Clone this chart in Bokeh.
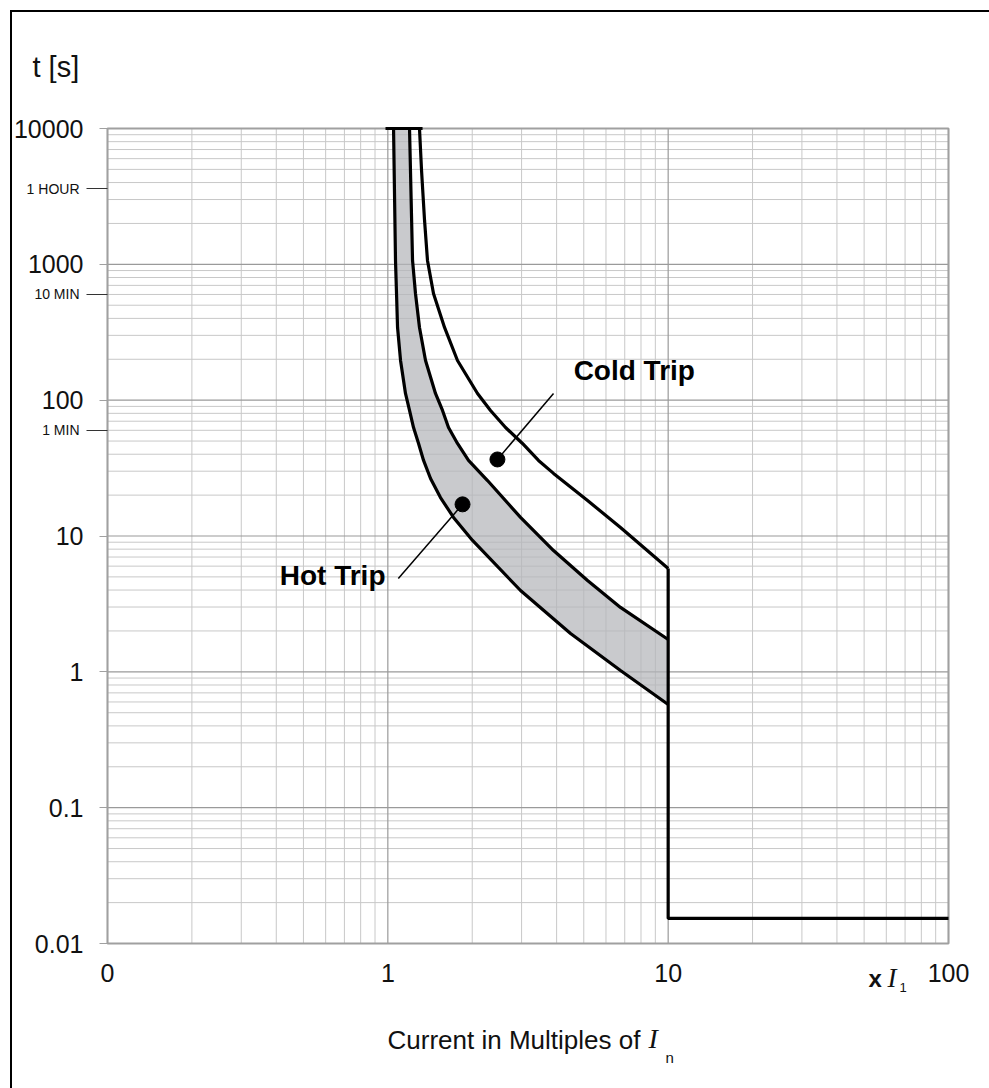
from bokeh.plotting import figure
from bokeh.models import Range1d, FixedTicker, LogAxis, Label
from bokeh.embed import file_html
from bokeh.resources import INLINE
from bokeh.core.properties import value

FONT = "Liberation Sans"
SERIF = "Liberation Serif"

# ---------------- data ----------------
x_decades = [0.1, 1, 10, 100]
x_tick_labels = ["0", "1", "10", "100"]
y_decades = [0.01, 0.1, 1, 10, 100, 1000, 10000]
y_tick_labels = ["0.01", "0.1", "1", "10", "100", "1000", "10000"]
time_marks = [3600, 600, 60]
time_mark_labels = ["1 HOUR", "10 MIN", "1 MIN"]

# hot trip curve (lower edge of the band)
hot_lower_x = [1.048, 1.065, 1.074, 1.083, 1.110, 1.156, 1.195, 1.235, 1.287, 1.341, 1.420,
               1.541, 1.715, 2.005, 2.974, 4.485, 6.76, 10.0]
hot_lower_y = [10000, 1068, 610, 343, 196, 112, 84.0, 62.9, 48.0, 36.0, 26.5,
               19.2, 13.7, 9.27, 3.97, 1.915, 1.023, 0.575]
# upper edge of the hot band
hot_upper_x = [1.195, 1.225, 1.255, 1.297, 1.363, 1.479, 1.567, 1.646, 1.772, 1.940,
               2.268, 2.974, 3.90, 5.157, 6.76, 10.0]
hot_upper_y = [10000, 1068, 610, 343, 196, 112, 84.0, 62.9, 48.0, 36.0,
               25.6, 13.7, 7.82, 4.70, 2.98, 1.73]
# cold trip curve
cold_x = [1.297, 1.319, 1.352, 1.385, 1.455, 1.593, 1.772, 2.089, 2.324, 2.630, 3.022,
          3.447, 3.90, 5.157, 6.76, 10.0]
cold_y = [10000, 4909, 2103, 1068, 610, 343, 196, 112, 84.0, 62.9, 48.0,
          36.0, 28.9, 18.25, 11.55, 5.77]
# instantaneous trip step
inst_x = [10.0, 10.0, 100.0]
inst_y = [5.77, 0.0153, 0.0153]
# cap at the top of the curves
cap_x = [0.981, 1.33]
cap_y = [10000, 10000]

# annotation markers (dot, leader end) and label anchors
cold_dot = (2.46, 36.6)
cold_leader_end = (3.90, 112)
cold_label_pos = (4.6, 165)
hot_dot = (1.847, 17.1)
hot_leader_end = (1.09, 4.87)
hot_label_pos = (0.981, 5.12)

# ---------------- layout ----------------
W, H = 989, 1088
PLOT_L, PLOT_R, PLOT_T, PLOT_B = 107, 948, 128, 943      # chart area inside the page
dec_x = (PLOT_R - PLOT_L) / 3.0                           # pixels per decade
dec_y = (PLOT_B - PLOT_T) / 6.0
x_lo, x_hi = x_decades[0], x_decades[-1]
y_lo, y_hi = y_decades[0], y_decades[-1]
x_range = Range1d(x_lo / 10 ** (PLOT_L / dec_x), x_hi * 10 ** ((W - PLOT_R) / dec_x))
y_range = Range1d(y_lo / 10 ** ((H - PLOT_B) / dec_y), y_hi * 10 ** (PLOT_T / dec_y))

p = figure(x_axis_type="log", y_axis_type="log",
           x_range=x_range, y_range=y_range,
           width=W, height=H, min_border=0,
           x_axis_location=None, y_axis_location=None,
           output_backend="svg", toolbar_location=None,
           background_fill_color=None, border_fill_color=None)
p.outline_line_color = None
p.xgrid.visible = False
p.ygrid.visible = False

# outer drawing frame (left and top edges visible, as in the reference)
p.styles = {"box-shadow": "inset 10px 10px 0 0 #ffffff, inset 12px 12px 0 0 #000000"}

x_minor = [m * d for d in x_decades[:-1] for m in range(2, 10)]
y_minor = [m * d for d in y_decades[:-1] for m in range(2, 10)]

# ---------------- grid ----------------
p.segment(x0=x_minor, y0=[y_lo] * len(x_minor), x1=x_minor, y1=[y_hi] * len(x_minor),
          line_color="#c8c8c8", line_width=1)
p.segment(x0=[x_lo] * len(y_minor), y0=y_minor, x1=[x_hi] * len(y_minor), y1=y_minor,
          line_color="#c8c8c8", line_width=1)
p.segment(x0=x_decades, y0=[y_lo] * len(x_decades), x1=x_decades, y1=[y_hi] * len(x_decades),
          line_color="#9a9a9a", line_width=1.2)
p.segment(x0=[x_lo] * len(y_decades), y0=y_decades, x1=[x_hi] * len(y_decades), y1=y_decades,
          line_color="#9a9a9a", line_width=1.2)

# band fill
p.patch(hot_lower_x + hot_upper_x[::-1], hot_lower_y + hot_upper_y[::-1],
        fill_color="#b4b5ba", fill_alpha=0.72, line_color=None)

# chart border
p.quad(left=[x_lo], right=[x_hi], bottom=[y_lo], top=[y_hi],
       fill_color=None, line_color="#a0a0a0", line_width=2)

# ---------------- axes ----------------
y_axis = LogAxis(fixed_location=x_lo, bounds=(y_lo, y_hi),
                 ticker=FixedTicker(ticks=y_decades, minor_ticks=[]),
                 major_label_overrides={float(v): t for v, t in zip(y_decades, y_tick_labels)},
                 axis_line_color=None, minor_tick_line_color=None,
                 major_tick_line_color="#a0a0a0", major_tick_out=8, major_tick_in=0,
                 major_label_standoff=16, major_label_text_font=FONT,
                 major_label_text_font_size="25px", major_label_text_color="#111111")
p.add_layout(y_axis, "left")

t_axis = LogAxis(fixed_location=x_lo, bounds=(y_lo, y_hi),
                 ticker=FixedTicker(ticks=time_marks, minor_ticks=[]),
                 major_label_overrides={float(v): t for v, t in zip(time_marks, time_mark_labels)},
                 axis_line_color=None, minor_tick_line_color=None,
                 major_tick_line_color="#333333", major_tick_out=21, major_tick_in=0,
                 major_label_standoff=7, major_label_text_font=FONT,
                 major_label_text_font_size="14px", major_label_text_color="#111111")
p.add_layout(t_axis, "left")

x_axis = LogAxis(fixed_location=y_lo, bounds=(x_lo, x_hi),
                 ticker=FixedTicker(ticks=x_decades, minor_ticks=[]),
                 major_label_overrides={float(v): t for v, t in zip(x_decades, x_tick_labels)},
                 axis_line_color=None, minor_tick_line_color=None,
                 major_tick_line_color=None, major_tick_out=0, major_tick_in=0,
                 major_label_standoff=20, major_label_text_font=FONT,
                 major_label_text_font_size="25px", major_label_text_color="#111111")
p.add_layout(x_axis, "below")

# ---------------- curves ----------------
LW = 3.2
p.line(hot_lower_x, hot_lower_y, line_color="black", line_width=LW)
p.line(hot_upper_x, hot_upper_y, line_color="black", line_width=LW)
p.line(cold_x, cold_y, line_color="black", line_width=LW)
p.line(inst_x, inst_y, line_color="black", line_width=LW)
p.line(cap_x, cap_y, line_color="black", line_width=LW)

# leaders and dots
p.segment(x0=[cold_dot[0], hot_dot[0]], y0=[cold_dot[1], hot_dot[1]],
          x1=[cold_leader_end[0], hot_leader_end[0]], y1=[cold_leader_end[1], hot_leader_end[1]],
          line_color="black", line_width=1.5)
p.scatter([cold_dot[0], hot_dot[0]], [cold_dot[1], hot_dot[1]], size=15,
          fill_color="black", line_color="black")

p.text(x=[cold_label_pos[0]], y=[cold_label_pos[1]], text=["Cold Trip"],
       text_font=value(FONT), text_font_style="bold", text_font_size="28px",
       text_align="left", text_baseline="middle", text_color="black")
p.text(x=[hot_label_pos[0]], y=[hot_label_pos[1]], text=["Hot Trip"],
       text_font=value(FONT), text_font_style="bold", text_font_size="28px",
       text_align="right", text_baseline="middle", text_color="black")


# ---------------- titles (page positions, y measured from the bottom) ----------------
def page_text(text, px, py, font, size, style="normal"):
    p.add_layout(Label(x=px, y=H - py, x_units="screen", y_units="screen", text=text,
                       text_font=font, text_font_size=size, text_font_style=style,
                       text_align="left", text_baseline="alphabetic", text_color="#111111"))


page_text("t [s]", 32, 66, FONT, "29px")
page_text("Current in Multiples of", 387, 1039, FONT, "26px")
page_text("I", 648, 1038, SERIF, "28px", "italic")
page_text("n", 665, 1057, FONT, "15px")
page_text("x", 868, 978, FONT, "24px", "bold")
page_text("I", 887, 977, SERIF, "27px", "italic")
page_text("1", 899, 987, FONT, "13px")

open("out.html", "w").write(file_html(p, INLINE))
